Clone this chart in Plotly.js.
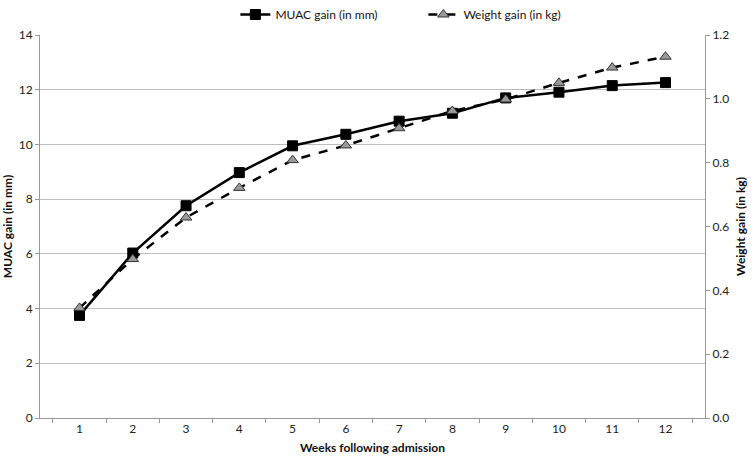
<!DOCTYPE html>
<html>
<head>
<meta charset="utf-8">
<script src="https://cdn.plot.ly/plotly-3.0.1.min.js"></script>
<style>html,body{margin:0;padding:0;background:#fff;}#chart{width:752px;height:460px;}</style>
</head>
<body>
<div id="chart"></div>
<script>
const weeks = ["1","2","3","4","5","6","7","8","9","10","11","12"];
const muacGain = [3.75, 6.03, 7.76, 8.97, 9.95, 10.37, 10.85, 11.14, 11.70, 11.91, 12.15, 12.26];
const weightGain = [0.345, 0.498, 0.628, 0.721, 0.808, 0.854, 0.908, 0.962, 0.998, 1.050, 1.098, 1.132];

const fontFam = "Lato, 'Open Sans', 'Liberation Sans', sans-serif";
const traces = [
  {
    x: weeks, y: muacGain, name: "MUAC gain (in mm)", type: "scatter", mode: "lines+markers",
    line: {color: "#000", width: 2.5},
    marker: {symbol: "square", size: 10, color: "#000", line: {color: "#000", width: 1}},
    yaxis: "y"
  },
  {
    x: weeks, y: weightGain, name: "Weight gain (in kg)", type: "scatter", mode: "lines+markers",
    line: {color: "#000", width: 2.5, dash: "dash"},
    marker: {symbol: "triangle-up", size: 10, color: "#9a9a9a", line: {color: "#333", width: 1}},
    yaxis: "y2"
  }
];

const layout = {
  width: 752, height: 460,
  margin: {l: 40, r: 47, t: 35, b: 42},
  paper_bgcolor: "#fff", plot_bgcolor: "#fff",
  font: {family: fontFam, size: 12, color: "#222"},
  showlegend: true,
  legend: {orientation: "h", x: 0.313, xanchor: "left", xref: "container", y: 1.0, yanchor: "top", yref: "container",
           entrywidth: 143, entrywidthmode: "pixels",
           font: {size: 12, color: "#111"}, bgcolor: "rgba(0,0,0,0)"},
  xaxis: {
    type: "category", tickson: "boundaries", ticks: "outside", ticklen: 4, tickcolor: "#999",
    showline: true, linecolor: "#999", linewidth: 1, showgrid: false,
    title: {text: "<b>Weeks following admission</b>", font: {size: 12, color: "#111"}, standoff: 8},
    tickfont: {size: 12, color: "#222"}
  },
  yaxis: {
    range: [0, 14], dtick: 2, tick0: 0, showgrid: true, gridcolor: "#bdbdbd", gridwidth: 1,
    showline: true, linecolor: "#999", ticks: "outside", ticklen: 4, tickcolor: "#999",
    zeroline: false,
    title: {text: "<b>MUAC gain (in mm)</b>", font: {size: 12, color: "#111"}, standoff: 6},
    tickfont: {size: 12, color: "#222"}
  },
  yaxis2: {
    range: [0, 1.2], dtick: 0.2, tick0: 0, tickformat: ".1f", overlaying: "y", side: "right",
    showgrid: false, showline: true, linecolor: "#999", ticks: "outside", ticklen: 4, tickcolor: "#999",
    zeroline: false,
    title: {text: "<b>Weight gain (in kg)</b>", font: {size: 12, color: "#111"}, standoff: 8},
    tickfont: {size: 12, color: "#222"}
  }
};

Plotly.newPlot("chart", traces, layout, {displayModeBar: false, staticPlot: true});
</script>
</body>
</html>
